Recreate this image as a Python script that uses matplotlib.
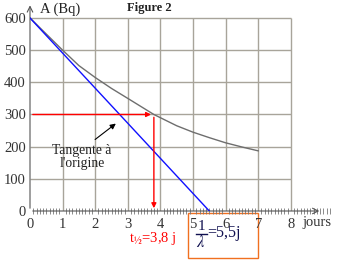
import matplotlib
matplotlib.use("Agg")
import matplotlib.pyplot as plt
from matplotlib.patches import Rectangle
from matplotlib.ticker import MultipleLocator

# values
t_curve = [0, 0.5, 1, 1.5, 2, 2.5, 3, 3.8, 4.5, 5, 5.5, 6, 6.5, 7]
a_curve = [600, 550, 500, 452, 415, 381, 350, 300, 265, 245, 228, 212, 199, 187]
tangent_t = [0, 5.5]
tangent_a = [600, 0]
t_half = 3.8
a_half = 300
x_ticks = [0, 1, 2, 3, 4, 5, 6, 7, 8]
y_ticks = [0, 100, 200, 300, 400, 500, 600]

plt.rcParams["font.family"] = ["Liberation Serif", "DejaVu Serif"]
plt.rcParams["mathtext.fontset"] = "stix"

fig = plt.figure(figsize=(3.42, 2.66), dpi=100)
ax = fig.add_axes([30 / 342, 55 / 266, 9.2 * 32.6 / 342, 650 * 0.3217 / 266])
ax.set_xlim(0, 9.2)
ax.set_ylim(0, 650)
for s in ax.spines.values():
    s.set_visible(False)

grid_c = "#a8a49a"
ax.vlines(x_ticks[1:], 0, 600, color=grid_c, lw=1.0, zorder=1)
ax.hlines(y_ticks[1:], 0, 8, color=grid_c, lw=1.0, zorder=1)

# axes with arrows
ax.annotate("", xy=(8.96, 0), xytext=(0, 0),
            arrowprops=dict(arrowstyle="->", color="#555555", lw=0.8), annotation_clip=False)
ax.annotate("", xy=(0, 648), xytext=(0, 0),
            arrowprops=dict(arrowstyle="->", color="#555555", lw=0.8), annotation_clip=False)

ax.set_xticks(x_ticks)
ax.set_yticks(y_ticks)
ax.xaxis.set_minor_locator(MultipleLocator(0.1))
ax.tick_params(axis="x", which="major", length=0, pad=5, labelsize=10.5, colors="#333333")
ax.tick_params(axis="x", which="minor", length=4, width=0.6, direction="inout", color="#777777")
ax.tick_params(axis="y", which="major", length=0, pad=3, labelsize=10.5, colors="#333333")

ax.plot(t_curve, a_curve, color="#6e6e6e", lw=1.0, zorder=3)
ax.plot(tangent_t, tangent_a, color="#1010ff", lw=1.0, zorder=3)

ax.annotate("", xy=(t_half, a_half), xytext=(0, a_half),
            arrowprops=dict(arrowstyle="-|>", color="red", lw=1.0, mutation_scale=7), zorder=4)
ax.annotate("", xy=(t_half, 0), xytext=(t_half, a_half),
            arrowprops=dict(arrowstyle="-|>", color="red", lw=1.0, mutation_scale=7), zorder=4)

ax.annotate("", xy=(2.7, 277), xytext=(1.93, 217),
            arrowprops=dict(arrowstyle="-|>", color="black", lw=0.8, mutation_scale=8))
ax.text(1.6, 168, "Tangente à\nl'origine", ha="center", va="center", fontsize=9.8,
        linespacing=1.0, color="#222222")

ax.text(0.3, 628, "A (Bq)", ha="left", va="center", fontsize=10.5, color="#222222", clip_on=False)
ax.text(3.65, 630, "Figure 2", ha="center", va="center", fontsize=9, fontweight="bold",
        color="#222222", clip_on=False)
ax.text(8.35, -36, "jours", ha="left", va="center", fontsize=10.5, color="#333333", clip_on=False)

ax.text(3.77, -84, r"t$_{½}$=3,8 j", ha="center", va="center", fontsize=10.5, color="red", clip_on=False)

# box with 1/lambda = 5,5j
frac_c = "#101050"
ax.add_patch(Rectangle((4.85, -146), 2.14, 140, fill=False, edgecolor="#f07020", lw=1.0, clip_on=False))
ax.text(5.25, -47, "1", ha="center", va="center", fontsize=11, color=frac_c, clip_on=False)
ax.plot([5.1, 5.42], [-71, -71], color=frac_c, lw=1.0, clip_on=False)
ax.text(5.25, -98, r"$\lambda$", ha="center", va="center", fontsize=12, color=frac_c, clip_on=False)
ax.text(5.44, -67, "=5,5j", ha="left", va="center", fontsize=11.5, color=frac_c, clip_on=False)

fig.savefig("out.png", dpi=100)
